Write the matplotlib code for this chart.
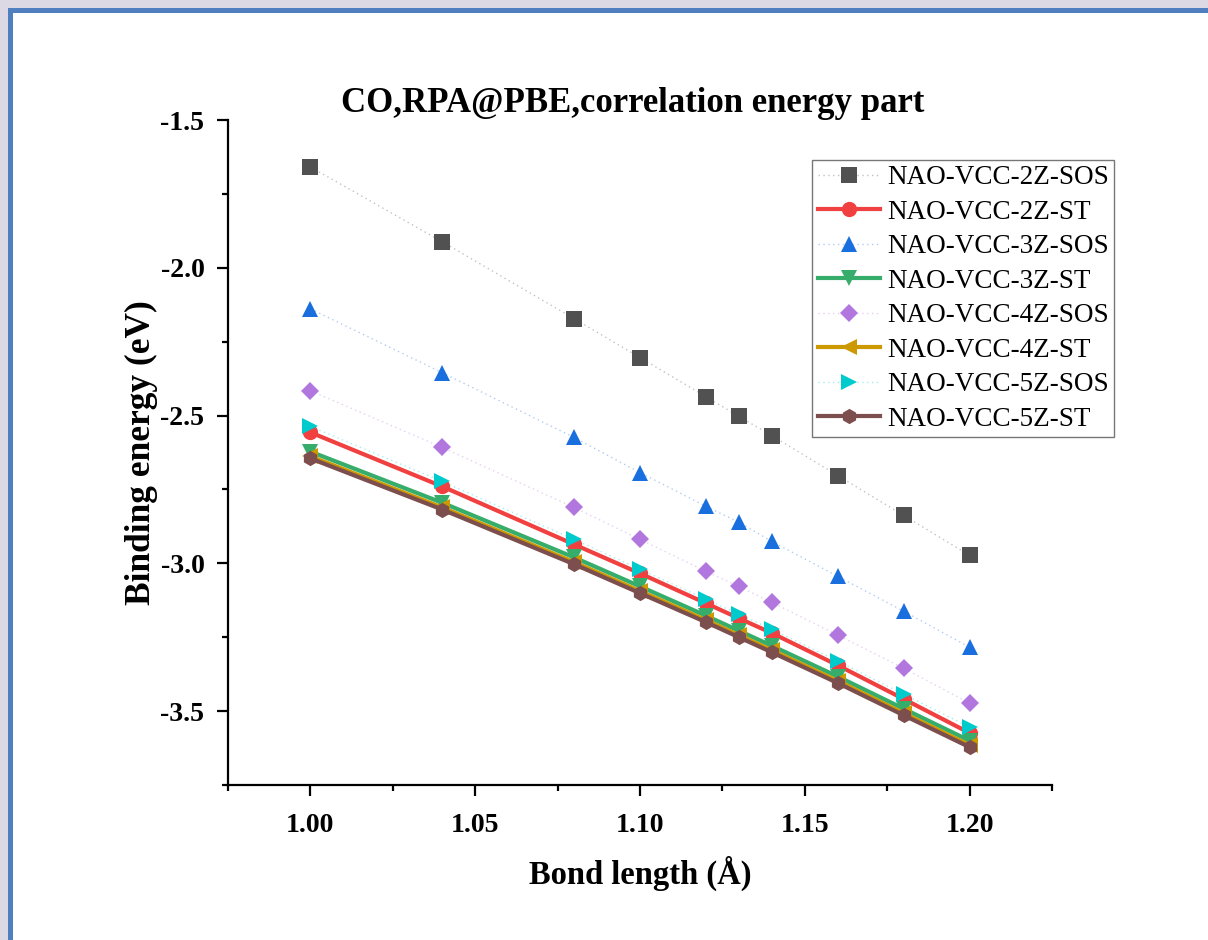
import matplotlib
matplotlib.use("Agg")
import matplotlib.pyplot as plt
from matplotlib.patches import Rectangle
from matplotlib.ticker import MultipleLocator, FormatStrFormatter

# ---- data ----
bond_length = [1.00, 1.04, 1.08, 1.10, 1.12, 1.13, 1.14, 1.16, 1.18, 1.20]
sos_2z = [-1.659, -1.912, -2.172, -2.304, -2.436, -2.503, -2.568, -2.703, -2.838, -2.973]
st_2z = [-2.557, -2.740, -2.936, -3.034, -3.135, -3.186, -3.236, -3.345, -3.459, -3.574]
sos_3z = [-2.139, -2.355, -2.574, -2.693, -2.807, -2.861, -2.926, -3.044, -3.162, -3.284]
st_3z = [-2.622, -2.795, -2.980, -3.078, -3.177, -3.228, -3.279, -3.383, -3.492, -3.600]
sos_4z = [-2.416, -2.608, -2.811, -2.919, -3.027, -3.078, -3.132, -3.243, -3.355, -3.473]
st_4z = [-2.638, -2.811, -2.996, -3.094, -3.192, -3.243, -3.294, -3.398, -3.507, -3.615]
sos_5z = [-2.537, -2.723, -2.919, -3.020, -3.122, -3.172, -3.223, -3.331, -3.443, -3.554]
st_5z = [-2.645, -2.818, -3.003, -3.101, -3.199, -3.250, -3.301, -3.405, -3.514, -3.622]

labels = ["NAO-VCC-2Z-SOS", "NAO-VCC-2Z-ST", "NAO-VCC-3Z-SOS", "NAO-VCC-3Z-ST",
          "NAO-VCC-4Z-SOS", "NAO-VCC-4Z-ST", "NAO-VCC-5Z-SOS", "NAO-VCC-5Z-ST"]
series = [sos_2z, st_2z, sos_3z, st_3z, sos_4z, st_4z, sos_5z, st_5z]
colors = ["#515151", "#F14040", "#1A6FDF", "#37AD6B", "#B177DE", "#CC9900", "#00CBCC", "#7D4E4E"]
markers = ["s", "o", "^", "v", "D", "<", ">", "h"]
is_sos = [True, False, True, False, True, False, True, False]

plt.rcParams['font.family'] = ['Liberation Serif', 'DejaVu Serif']

W, H = 1208, 940
fig = plt.figure(figsize=(W / 100, H / 100), dpi=100)
fig.patch.set_facecolor("#dcd9e5")
# window frame
fig.patches.append(Rectangle((8 / W, 0), 1.0, 1 - 8 / H, transform=fig.transFigure,
                             facecolor="#4f7fbf", edgecolor="none", zorder=-10))
fig.patches.append(Rectangle((13 / W, 0), 1.0, 1 - 13 / H, transform=fig.transFigure,
                             facecolor="white", edgecolor="none", zorder=-9))

ax = fig.add_axes([228 / W, 1 - 785 / H, (1052 - 228) / W, (785 - 120) / H])
ax.set_facecolor("none")

for y, lab, c, m, sos in zip(series, labels, colors, markers, is_sos):
    ms = 11 if m not in ("D",) else 9.5
    if m in ("^", "v", "<", ">"):
        ms = 12
    if sos:
        line, = ax.plot(bond_length, y, linestyle=(0, (1, 2.5)), linewidth=1.0, color=c,
                        marker=m, markersize=ms, markeredgewidth=0, label=lab)
        line.set_color((*matplotlib.colors.to_rgb(c), 0.35))
        line.set_markerfacecolor(c)
        line.set_markeredgecolor(c)
    else:
        ax.plot(bond_length, y, linestyle="-", linewidth=3.0, color=c,
                marker=m, markersize=ms, markeredgewidth=0, label=lab)

ax.set_xlim(0.975, 1.225)
ax.set_ylim(-3.75, -1.5)
ax.xaxis.set_major_locator(MultipleLocator(0.05))
ax.xaxis.set_minor_locator(MultipleLocator(0.025))
ax.yaxis.set_major_locator(MultipleLocator(0.5))
ax.yaxis.set_minor_locator(MultipleLocator(0.25))
ax.xaxis.set_major_formatter(FormatStrFormatter("%.2f"))
ax.yaxis.set_major_formatter(FormatStrFormatter("%.1f"))

for s in ("top", "right"):
    ax.spines[s].set_visible(False)
for s in ("left", "bottom"):
    ax.spines[s].set_linewidth(1.6)
ax.tick_params(which="major", direction="out", length=8, width=1.6, labelsize=20)
ax.tick_params(axis="x", which="major", pad=12)
ax.tick_params(axis="y", which="major", pad=9)
ax.tick_params(which="minor", direction="out", length=4.5, width=1.6)
for t in ax.get_xticklabels() + ax.get_yticklabels():
    t.set_fontweight("bold")

ax.set_xlabel("Bond length (Å)", fontsize=23.5, fontweight="bold", labelpad=13)
ax.set_ylabel("Binding energy (eV)", fontsize=25.5, fontweight="bold", labelpad=2)
fig.text(633 / W, 1 - 104 / H, "CO,RPA@PBE,correlation energy part", fontsize=25,
         fontweight="bold", ha="center", va="center")

leg = ax.legend(loc="upper right", bbox_to_anchor=((1114 - 228) / (1052 - 228), 1 + (120 - 160) / (785 - 120)),
                fontsize=19.5, frameon=True, fancybox=False, handlelength=2.3,
                borderaxespad=0, labelspacing=0.35, handletextpad=0.25, borderpad=0.2)
leg.get_frame().set_edgecolor("#555555")
leg.get_frame().set_linewidth(1.0)

fig.savefig("out.png", dpi=100, facecolor=fig.get_facecolor())
